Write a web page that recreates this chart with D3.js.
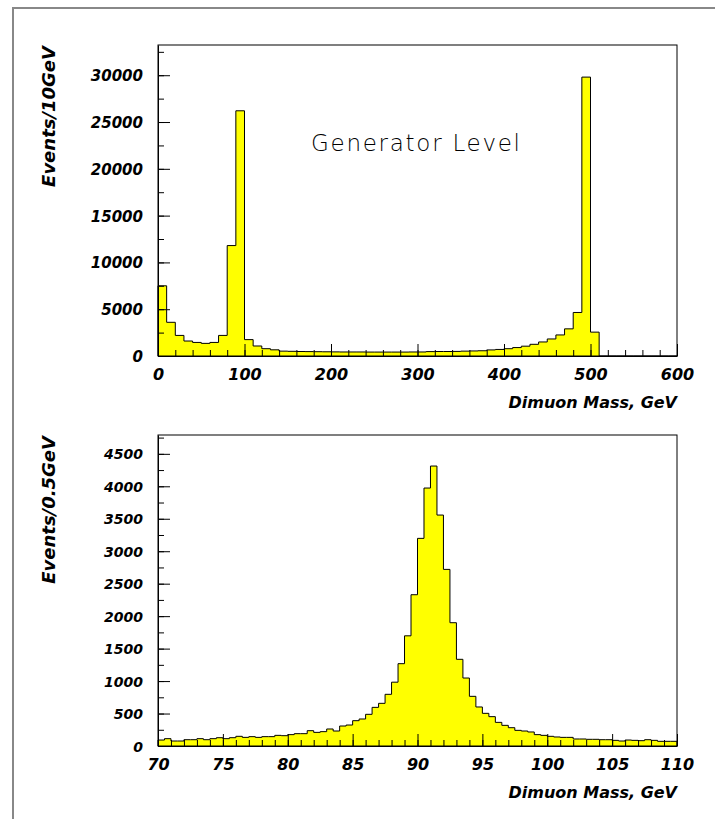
<!DOCTYPE html>
<html>
<head>
<meta charset="utf-8">
<script src="https://cdn.jsdelivr.net/npm/d3@7"></script>
<style>
  html, body { margin: 0; padding: 0; background: #fff; }
  svg { display: block; }
  .tick text, .lbl { font-family: "DejaVu Sans", sans-serif; font-weight: bold; font-style: italic; fill: #000; }
</style>
</head>
<body>
<svg id="chart" width="715" height="819"></svg>
<script>
// ---------- DATA ----------
// Top histogram: Events per 10 GeV, bins from 0 to 600 GeV
const topBinWidth = 10;
const topValues = [
  7500, 3600, 2200, 1600, 1450, 1350, 1450, 2200, 11800, 26200,
  1750, 1070, 780, 660, 520, 500, 480, 470, 460, 450,
  440, 430, 430, 430, 420, 420, 420, 420, 420, 430,
  430, 470, 480, 480, 490, 520, 540, 560, 650, 700,
  780, 900, 1050, 1250, 1500, 1820, 2250, 2900, 4650, 29800,
  2550, 0, 0, 0, 0, 0, 0, 0, 0, 0
];
const topXDomain = [0, 600];
const topYMax = 33230;
const topXTicks = [0, 100, 200, 300, 400, 500, 600];
const topYTicks = [0, 5000, 10000, 15000, 20000, 25000, 30000];

// Bottom histogram: Events per 0.5 GeV, bins from 70 to 110 GeV
const botBinWidth = 0.5;
const botValues = [
  92, 113, 77, 77, 97, 97, 113, 97, 113, 128,
  113, 128, 149, 133, 144, 133, 144, 144, 164, 159,
  175, 190, 190, 236, 210, 221, 262, 231, 308, 323,
  390, 416, 488, 595, 657, 796, 983, 1268, 1697, 2330,
  3198, 3973, 4312, 3557, 2720, 1899, 1335, 1047, 765, 601,
  503, 452, 364, 318, 282, 241, 231, 216, 175, 164,
  149, 139, 133, 133, 108, 108, 103, 103, 97, 97,
  87, 77, 92, 87, 82, 97, 87, 72, 72, 72
];
const botXDomain = [70, 110];
const botYMax = 4790;
const botXTicks = [70, 75, 80, 85, 90, 95, 100, 105, 110];
const botYTicks = [0, 500, 1000, 1500, 2000, 2500, 3000, 3500, 4000, 4500];

const topTitleY = "Events/10GeV";
const botTitleY = "Events/0.5GeV";
const titleX = "Dimuon Mass, GeV";
const annotation = "Generator Level";

// ---------- DRAW ----------
const svg = d3.select("#chart");

// outer page frame
svg.append("path")
  .attr("d", "M13,819 L13,8 L715,8")
  .attr("fill", "none").attr("stroke", "#888").attr("stroke-width", 2);

function drawHist(cfg) {
  const x = d3.scaleLinear().domain(cfg.xDomain).range([cfg.left, cfg.right]);
  const y = d3.scaleLinear().domain([0, cfg.yMax]).range([cfg.bottom, cfg.top]);
  const g = svg.append("g");

  const pts = cfg.values.map((v, i) => [cfg.xDomain[0] + i * cfg.binWidth, v]);
  pts.push([cfg.xDomain[0] + cfg.values.length * cfg.binWidth, cfg.values[cfg.values.length - 1]]);

  const area = d3.area().curve(d3.curveStepAfter)
    .x(d => x(d[0])).y0(y(0)).y1(d => y(d[1]));
  g.append("path").datum(pts).attr("d", area).attr("fill", "#ffff00").attr("stroke", "none");

  // outline
  const line = d3.line().curve(d3.curveStepAfter).x(d => x(d[0])).y(d => y(d[1]));
  const outline = [[cfg.xDomain[0], 0]].concat(pts).concat([[pts[pts.length - 1][0], 0]]);
  g.append("path").datum(outline).attr("d", line)
    .attr("fill", "none").attr("stroke", "#000").attr("stroke-width", 1);

  // frame
  g.append("rect")
    .attr("x", cfg.left).attr("y", cfg.top)
    .attr("width", cfg.right - cfg.left).attr("height", cfg.bottom - cfg.top)
    .attr("fill", "none").attr("stroke", "#000").attr("stroke-width", 1);

  // x axis minor ticks
  g.append("g").attr("transform", `translate(0,${cfg.bottom})`)
    .call(d3.axisBottom(x).tickValues(d3.range(cfg.xDomain[0], cfg.xDomain[1] + 1e-9, cfg.xMinor))
      .tickSize(-6).tickSizeOuter(0).tickFormat(""))
    .call(s => s.select(".domain").remove());
  // x axis major ticks
  const gx = g.append("g").attr("transform", `translate(0,${cfg.bottom})`)
    .call(d3.axisBottom(x).tickValues(cfg.xTicks).tickSize(-12).tickSizeOuter(0).tickFormat(d3.format("d")));
  gx.select(".domain").attr("stroke", "#000");
  gx.selectAll(".tick text").attr("y", 24).attr("dy", 0)
    .style("font-size", "16px");

  // y axis minor ticks
  g.append("g").attr("transform", `translate(${cfg.left},0)`)
    .call(d3.axisLeft(y).tickValues(d3.range(0, cfg.yMax, cfg.yMinor))
      .tickSize(-6).tickSizeOuter(0).tickFormat(""))
    .call(s => s.select(".domain").remove());
  const gy = g.append("g").attr("transform", `translate(${cfg.left},0)`)
    .call(d3.axisLeft(y).tickValues(cfg.yTicks).tickSize(-12).tickSizeOuter(0).tickFormat(d3.format("d")));
  gy.select(".domain").attr("stroke", "#000");
  gy.selectAll(".tick text").attr("x", -15).attr("dy", "0.36em")
    .style("font-size", cfg.yFont);

  // axis titles
  svg.append("text").attr("class", "lbl")
    .attr("transform", `translate(55,${cfg.top + 1}) rotate(-90)`)
    .attr("text-anchor", "end")
    .style("font-size", "18px")
    .text(cfg.yTitle);
  svg.append("text").attr("class", "lbl")
    .attr("x", cfg.right).attr("y", cfg.bottom + 52)
    .attr("text-anchor", "end")
    .style("font-size", "16px")
    .text(titleX);
  return { x, y };
}

drawHist({
  left: 158, right: 677, top: 45, bottom: 356,
  xDomain: topXDomain, yMax: topYMax, binWidth: topBinWidth, values: topValues,
  xTicks: topXTicks, yTicks: topYTicks, xMinor: 20, yMinor: 2500,
  yTitle: topTitleY, yFont: "15px"
});

drawHist({
  left: 158, right: 677, top: 435, bottom: 746,
  xDomain: botXDomain, yMax: botYMax, binWidth: botBinWidth, values: botValues,
  xTicks: botXTicks, yTicks: botYTicks, xMinor: 1, yMinor: 250,
  yTitle: botTitleY, yFont: "14px"
});

svg.append("text")
  .attr("x", 311).attr("y", 151)
  .attr("textLength", 209).attr("lengthAdjust", "spacing")
  .style("font-family", "'DejaVu Sans', sans-serif")
  .style("font-weight", 200)
  .style("font-size", "23px")
  .style("fill", "#000")
  .text(annotation);
</script>
</body>
</html>
